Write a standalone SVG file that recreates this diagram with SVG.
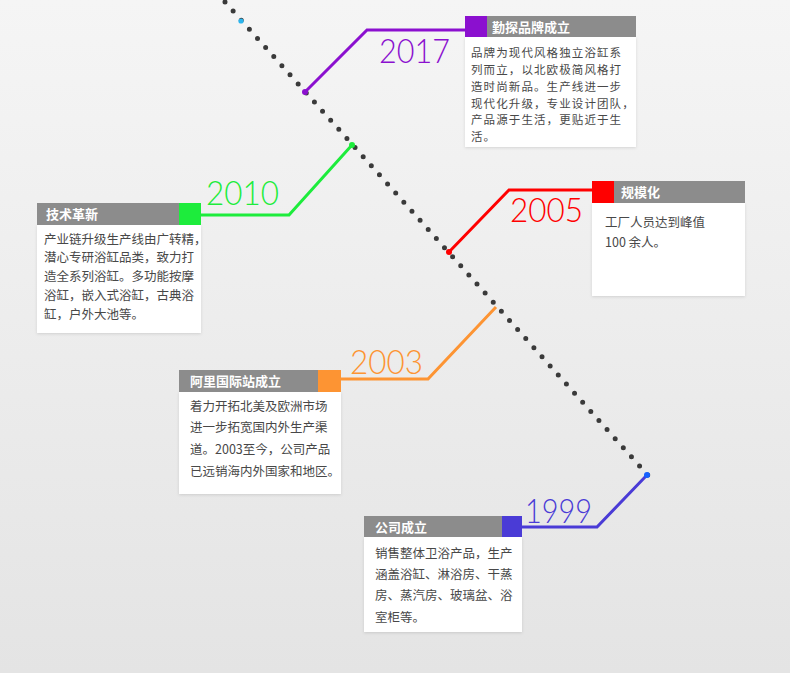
<svg xmlns="http://www.w3.org/2000/svg" width="790" height="673" viewBox="0 0 790 673">
<defs>
<linearGradient id="bg" x1="0" y1="0" x2="0" y2="1">
<stop offset="0" stop-color="#f5f5f5"/>
<stop offset="1" stop-color="#e4e4e4"/>
</linearGradient>
<filter id="sh" x="-10%" y="-10%" width="120%" height="120%">
<feDropShadow dx="0" dy="1" stdDeviation="1.5" flood-color="#000" flood-opacity="0.12"/>
</filter>
<style>
.body{fill:#fff;filter:url(#sh)}
.hd{fill:#8c8c8c}
.ttl{font-family:"Noto Sans CJK SC","Noto Sans",sans-serif;font-size:13px;font-weight:bold;fill:#fff}
.txt{font-family:"Noto Sans CJK SC","Noto Sans",sans-serif;font-size:12.5px;fill:#484848}
.tight{font-size:11.5px;letter-spacing:1.1px}
.yr{font-family:Lato,"Open Sans",sans-serif;font-weight:300;font-size:34px}
.conn{fill:none;stroke-width:3;stroke-linejoin:miter}
.dots{stroke:#3a3a3a;stroke-width:5;stroke-linecap:round;stroke-dasharray:0 12.2;fill:none}
</style>
</defs>
<rect width="790" height="673" fill="url(#bg)"/>

<g id="timeline">
<line class="dots" x1="225" y1="2" x2="653" y2="481"/>
<circle cx="241" cy="21" r="2.6" fill="#2bb5ee"/>
</g>

<g id="connectors">
<polyline class="conn" stroke="#8b10cf" points="305,92 367,30 466,30"/>
<circle cx="305" cy="92" r="3" fill="#8b10cf"/>
<polyline class="conn" stroke="#1dec3c" points="352,145 289,215 200,215"/>
<circle cx="352" cy="145" r="3" fill="#1dec3c"/>
<polyline class="conn" stroke="#ff0000" points="449,252 509,190 593,190"/>
<circle cx="449" cy="252" r="3" fill="#ff0000"/>
<polyline class="conn" stroke="#fd9433" points="496,307 428,379 340,379"/>
<polyline class="conn" stroke="#4a3bd6" points="647,475 597,527 521,527"/>
<circle cx="647" cy="475" r="3" fill="#1560ff"/>
</g>

<g id="node-2017">
<text class="yr" x="379" y="63" fill="#8b10cf" textLength="71" lengthAdjust="spacingAndGlyphs">2017</text>
<rect class="body" x="465" y="37" width="171" height="110"/>
<rect class="hd" x="487" y="16" width="149" height="21"/>
<rect x="465" y="16" width="22" height="21" fill="#8b10cf"/>
<text class="ttl" x="492" y="31.5">勤探品牌成立</text>
<text class="txt tight" x="471" y="57.3">品牌为现代风格独立浴缸系</text>
<text class="txt tight" x="471" y="74">列而立，以北欧极简风格打</text>
<text class="txt tight" x="471" y="90.8">造时尚新品。生产线进一步</text>
<text class="txt tight" x="471" y="107.5">现代化升级，专业设计团队，</text>
<text class="txt tight" x="471" y="124.3">产品源于生活，更贴近于生</text>
<text class="txt tight" x="471" y="141">活。</text>
</g>

<g id="node-2010">
<text class="yr" x="206" y="205" fill="#1dec3c" textLength="73" lengthAdjust="spacingAndGlyphs">2010</text>
<rect class="body" x="37" y="225" width="164" height="108"/>
<rect class="hd" x="37" y="203" width="142" height="22"/>
<rect x="179" y="203" width="22" height="22" fill="#1dec3c"/>
<text class="ttl" x="46" y="219">技术革新</text>
<text class="txt" x="44" y="243.7">产业链升级生产线由广转精，</text>
<text class="txt" x="44" y="262.4">潜心专研浴缸品类，致力打</text>
<text class="txt" x="44" y="281.2">造全系列浴缸。多功能按摩</text>
<text class="txt" x="44" y="299.9">浴缸，嵌入式浴缸，古典浴</text>
<text class="txt" x="44" y="318.7">缸，户外大池等。</text>
</g>

<g id="node-2005">
<text class="yr" x="510" y="222" fill="#ff0000" textLength="73" lengthAdjust="spacingAndGlyphs">2005</text>
<rect class="body" x="592" y="203" width="153" height="93"/>
<rect class="hd" x="614" y="181" width="131" height="22"/>
<rect x="592" y="181" width="22" height="22" fill="#ff0000"/>
<text class="ttl" x="621" y="197">规模化</text>
<text class="txt" x="605" y="226.7">工厂人员达到峰值</text>
<text class="txt" x="605" y="247">100 余人。</text>
</g>

<g id="node-2003">
<text class="yr" x="350" y="374" fill="#fd9433" textLength="73" lengthAdjust="spacingAndGlyphs">2003</text>
<rect class="body" x="179" y="392" width="162" height="102"/>
<rect class="hd" x="179" y="370" width="139" height="22"/>
<rect x="318" y="370" width="23" height="22" fill="#fd9433"/>
<text class="ttl" x="190" y="386">阿里国际站成立</text>
<text class="txt" x="190" y="410.7">着力开拓北美及欧洲市场</text>
<text class="txt" x="190" y="432.3">进一步拓宽国内外生产渠</text>
<text class="txt" x="190" y="453.9">道。2003至今，公司产品</text>
<text class="txt" x="190" y="475.5">已远销海内外国家和地区。</text>
</g>

<g id="node-1999">
<text class="yr" x="525" y="523" fill="#4a3bd6" textLength="67" lengthAdjust="spacingAndGlyphs">1999</text>
<rect class="body" x="364" y="537" width="158" height="95"/>
<rect class="hd" x="364" y="516" width="138" height="21"/>
<rect x="502" y="516" width="20" height="21" fill="#4a3bd6"/>
<text class="ttl" x="375" y="531.5">公司成立</text>
<text class="txt" x="375" y="557.7">销售整体卫浴产品，生产</text>
<text class="txt" x="375" y="579">涵盖浴缸、淋浴房、干蒸</text>
<text class="txt" x="375" y="600.3">房、蒸汽房、玻璃盆、浴</text>
<text class="txt" x="375" y="621.6">室柜等。</text>
</g>
</svg>
